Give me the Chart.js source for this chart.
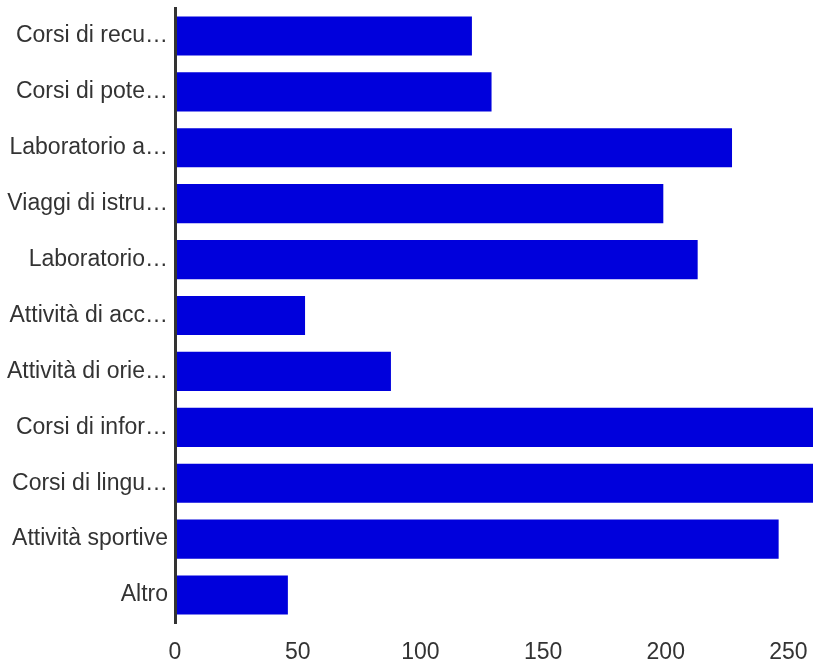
<!DOCTYPE html>
<html>
<head>
<meta charset="utf-8">
<script src="https://cdn.jsdelivr.net/npm/chart.js@4/dist/chart.umd.min.js"></script>
<style>
    html, body { margin: 0; padding: 0; background: #fff; }
    #wrap { width: 813px; height: 663px; position: relative; }
</style>
</head>
<body>
<div id="wrap"><canvas id="barChart"></canvas></div>
<script>
// Dati del grafico
const categories = [
    'Corsi di recu…',
    'Corsi di pote…',
    'Laboratorio a…',
    'Viaggi di istru…',
    'Laboratorio…',
    'Attività di acc…',
    'Attività di orie…',
    'Corsi di infor…',
    'Corsi di lingu…',
    'Attività sportive',
    'Altro'
];
const counts = [121, 129, 227, 199, 213, 53, 88, 268, 272, 246, 46];
const xTicks = [0, 50, 100, 150, 200, 250];
const xMax = 260;

const barColor = '#0000dc';
const textColor = '#333';
const fontFamily = '"Liberation Sans", Arial, sans-serif';

document.addEventListener('DOMContentLoaded', () => {
    new Chart(document.getElementById('barChart'), {
        type: 'bar',
        data: {
            labels: categories,
            datasets: [{
                data: counts,
                backgroundColor: barColor,
                borderWidth: 0,
                categoryPercentage: 1.0,
                barPercentage: 0.7,
            }],
        },
        options: {
            indexAxis: 'y',
            responsive: true,
            maintainAspectRatio: false,
            animation: false,
            layout: { padding: { top: 8, right: 0, bottom: 0, left: 0 } },
            plugins: { legend: { display: false }, tooltip: { enabled: false } },
            scales: {
                x: {
                    min: 0,
                    max: xMax,
                    afterBuildTicks: (scale) => {
                        scale.ticks = xTicks.map(v => ({ value: v }));
                    },
                    // altezza fissa, niente padding laterale per le etichette
                    afterFit: (scale) => {
                        scale.height = 40;
                        scale.paddingLeft = 0;
                        scale.paddingRight = 0;
                    },
                    grid: { display: false, drawTicks: false },
                    border: { display: false },
                    ticks: {
                        color: textColor,
                        padding: 16,
                        maxRotation: 0,
                        font: { family: fontFamily, size: 23 },
                    },
                },
                y: {
                    afterFit: (scale) => {
                        scale.width = 175;
                        scale.paddingTop = 0;
                        scale.paddingBottom = 0;
                    },
                    grid: { display: false, drawTicks: false },
                    border: { display: true, color: '#333', width: 3, z: 1 },
                    ticks: {
                        color: textColor,
                        padding: 7,
                        autoSkip: false,
                        font: { family: fontFamily, size: 23 },
                    },
                },
            },
        },
    });
});
</script>
</body>
</html>
